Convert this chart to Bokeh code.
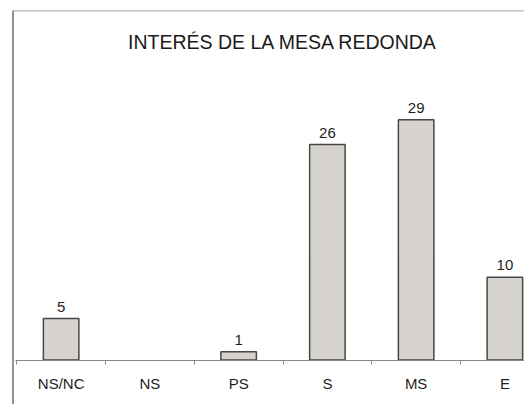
import numpy as np
from bokeh.plotting import figure
from bokeh.models import (LinearAxis, FixedTicker, Span, Label, Range1d, ColumnDataSource)
from bokeh.core.properties import value
from bokeh.embed import file_html
from bokeh.resources import INLINE

title_text = "INTERÉS DE LA MESA REDONDA"
categories = ["NS/NC", "NS", "PS", "S", "MS", "E"]
counts = [5, 0, 1, 26, 29, 10]

FONT = "Liberation Sans"

n = len(categories)
centers = np.arange(n) + 0.5
boundaries = np.arange(n + 1).astype(float)

shown = [i for i, v in enumerate(counts) if v > 0]
src = ColumnDataSource(dict(
    x=[centers[i] for i in shown],
    top=[counts[i] for i in shown],
    lab=[str(counts[i]) for i in shown],
))

p = figure(width=524, height=404, output_backend="svg", toolbar_location=None,
           x_range=Range1d(-0.048, 5.721), y_range=Range1d(-5.37, 42.18),
           x_axis_location=None, y_axis_location=None,
           min_border_left=12, min_border_top=10, min_border_right=0, min_border_bottom=0)
p.grid.visible = False
p.outline_line_color = None
p.background_fill_color = "white"
p.border_fill_color = "white"

p.vbar(x="x", top="top", bottom=0, width=0.4, source=src,
       fill_color="#D6D3CF", line_color="#474747", line_width=1.5)

p.text(x="x", y="top", text="lab", source=src, text_align="center",
       text_baseline="alphabetic", y_offset=-12,
       text_font=value(FONT), text_font_size="15px", text_color="#1e1e1e")

xaxis = LinearAxis(fixed_location=0,
                   ticker=FixedTicker(ticks=list(centers), minor_ticks=list(boundaries)),
                   major_label_overrides={float(c): name for c, name in zip(centers, categories)},
                   bounds=(-0.014, 5.721))
xaxis.axis_line_color = "#8a8a8a"
xaxis.axis_line_width = 1.2
xaxis.major_tick_line_color = None
xaxis.minor_tick_line_color = "#8a8a8a"
xaxis.minor_tick_out = 4
xaxis.minor_tick_in = 0
xaxis.major_label_standoff = 9
xaxis.major_label_text_font = FONT
xaxis.major_label_text_font_size = "15px"
xaxis.major_label_text_color = "#1e1e1e"
p.add_layout(xaxis, "below")

# chart-area border (left and top edges visible in the crop)
p.add_layout(Span(location=-0.048, dimension="height", line_color="#262626", line_width=2))
p.add_layout(Span(location=42.18, dimension="width", line_color="#8c8c8c", line_width=1.5))

p.add_layout(Label(x=n / 2, y=38.4, text=title_text, text_align="center",
                   text_baseline="middle", text_font=FONT, text_font_size="19.5px",
                   text_color="#1a1a1a"))

open("out.html", "w").write(file_html(p, INLINE))
